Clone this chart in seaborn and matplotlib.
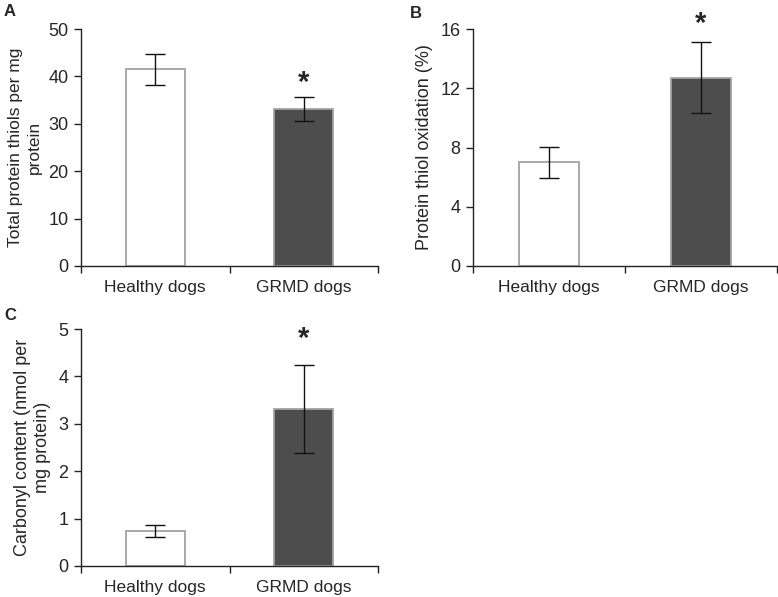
import matplotlib
matplotlib.use('Agg')
import matplotlib.pyplot as plt
import seaborn as sns
import pandas as pd

sns.set_theme(style='white')
plt.rcParams['font.family'] = ['Liberation Sans', 'DejaVu Sans']

groups = ['Healthy dogs', 'GRMD dogs']

# panel A: total protein thiols
thiols = [41.5, 33.1]
thiols_err = [3.3, 2.5]
# panel B: protein thiol oxidation (%)
oxid = [7.0, 12.7]
oxid_err = [1.05, 2.4]
# panel C: carbonyl content
carbonyl = [0.74, 3.31]
carbonyl_err = [0.135, 0.92]

star_y = [38.6, 16.35, 4.78]

fills = ['#ffffff', '#4d4d4d']
W, H = 778, 597
fig = plt.figure(figsize=(W / 100, H / 100), dpi=100)


def px_axes(x0, y0, x1, y1):
    return fig.add_axes([x0 / W, 1 - y1 / H, (x1 - x0) / W, (y1 - y0) / H])


def panel(ax, vals, errs, ylim, yticks, ylabel, star, lsize=13):
    df = pd.DataFrame({'group': groups, 'value': vals})
    sns.barplot(data=df, x='group', y='value', hue='group', palette=fills,
                width=0.4, edgecolor='#a3a3a3', linewidth=1.3, legend=False, ax=ax)
    ax.errorbar(range(len(vals)), vals, yerr=errs, fmt='none', ecolor='#111111',
                elinewidth=1, capsize=7, capthick=1)
    ax.text(1, star, '*', ha='center', va='center', fontsize=21, fontweight='bold',
            clip_on=False)
    ax.set_xlim(-0.5, 1.5)
    ax.set_ylim(*ylim)
    ax.set_yticks(yticks)
    ax.set_xlabel('')
    ax.set_ylabel(ylabel, fontsize=lsize, linespacing=1.25, labelpad=5)
    ax.set_xticks([-0.5, 0.5, 1.5], minor=True)
    ax.tick_params(axis='x', which='major', length=0, labelsize=12.5, pad=10)
    ax.tick_params(axis='x', which='minor', length=5, width=1, color='#222222', direction='out',
                   bottom=True)
    ax.tick_params(axis='y', length=5, width=1, color='#222222', direction='out', left=True,
                   labelsize=13, pad=4)
    for s in ['top', 'right']:
        ax.spines[s].set_visible(False)
    for s in ['left', 'bottom']:
        ax.spines[s].set_color('#222222')
        ax.spines[s].set_linewidth(1)


axA = px_axes(81, 29, 378, 266)
panel(axA, thiols, thiols_err, (0, 50), range(0, 51, 10),
      'Total protein thiols per mg\nprotein', star_y[0], lsize=12.5)
axB = px_axes(473, 29, 777, 266)
panel(axB, oxid, oxid_err, (0, 16), range(0, 17, 4),
      'Protein thiol oxidation (%)', star_y[1])
axC = px_axes(81, 329, 378, 566)
panel(axC, carbonyl, carbonyl_err, (0, 5), range(0, 6, 1),
      'Carbonyl content (nmol per\nmg protein)', star_y[2])

for lab, x, y in [('A', 10, 12), ('B', 416, 14), ('C', 10, 315)]:
    fig.text(x / W, 1 - y / H, lab, fontsize=12, fontweight='bold', ha='center', va='center')

fig.savefig('out.png', dpi=100)
